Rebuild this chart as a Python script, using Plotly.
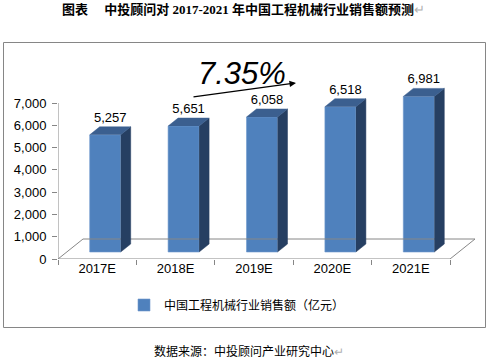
import plotly.graph_objects as go

# ---- data ----
categories = ["2017E", "2018E", "2019E", "2020E", "2021E"]
sales = [5257, 5651, 6058, 6518, 6981]
y_tick_values = [0, 1000, 2000, 3000, 4000, 5000, 6000, 7000]
growth_label = "7.35%"
series_name = "中国工程机械行业销售额（亿元）"
title_text = "图表　 中投顾问对 2017-2021 年中国工程机械行业销售额预测"
source_text = "数据来源：中投顾问产业研究中心"

# ---- geometry (pixels) ----
W, H = 489, 359
PL, PR, PT, PB = 58, 480, 85, 259
KX = 78.4            # px per category
KY = 156 / 7000      # px per unit
X0 = -0.5
XMAX = X0 + (PR - PL) / KX
YMAX = (PB - PT) / KY


def dx(px):
    return px / KX


def dy(py):
    return py / KY


def paper_x(px):
    return (px - PL) / (PR - PL)


def paper_y(py):
    return (PB - py) / (PB - PT)


BAR_W = dx(31)
SHIFT_X = dx(8)
BASE = dy(7)
DEP_X = dx(10)
DEP_Y = dy(8)
FLOOR_DX = dx(25)
FLOOR_DY = dy(20)

FRONT = "#4F81BD"
TOP = "#3B5F8F"
SIDE = "#263F62"
GRID = "#868686"
FONT_LAT = "Arial, Liberation Sans, Noto Sans CJK SC"
FONT_CJK = "Noto Sans CJK SC, Arial"

idx = list(range(len(categories)))
front_x = [i + SHIFT_X for i in idx]
tops = [BASE + v for v in sales]

fig = go.Figure()

# floor outline (back edge + diagonals)
n = len(categories)
fig.add_trace(go.Scatter(
    x=[X0, X0 + FLOOR_DX, X0 + n + FLOOR_DX, X0 + n],
    y=[0, FLOOR_DY, FLOOR_DY, 0],
    mode="lines", line=dict(color=GRID, width=1),
    showlegend=False, hoverinfo="skip"))

# front faces
fig.add_trace(go.Bar(
    x=front_x, y=sales, base=BASE, width=BAR_W,
    marker=dict(color=FRONT, line=dict(color="#6F99CC", width=0.6)),
    name=series_name, showlegend=True))

# side faces
sx, sy = [], []
for fx, t in zip(front_x, tops):
    xr = fx + BAR_W / 2
    sx += [xr, xr + DEP_X, xr + DEP_X, xr, None]
    sy += [BASE, BASE + DEP_Y, t + DEP_Y, t, None]
fig.add_trace(go.Scatter(x=sx, y=sy, mode="lines", fill="toself",
                         fillcolor=SIDE, line=dict(color=SIDE, width=0.5),
                         showlegend=False, hoverinfo="skip"))

# top faces
tx, ty = [], []
for fx, t in zip(front_x, tops):
    xl = fx - BAR_W / 2
    xr = fx + BAR_W / 2
    tx += [xl, xl + DEP_X, xr + DEP_X, xr, None]
    ty += [t, t + DEP_Y, t + DEP_Y, t, None]
fig.add_trace(go.Scatter(x=tx, y=ty, mode="lines", fill="toself",
                         fillcolor=TOP, line=dict(color=TOP, width=0.5),
                         showlegend=False, hoverinfo="skip"))

# data labels
fig.add_trace(go.Scatter(
    x=[fx + DEP_X / 2 for fx in front_x],
    y=[t + DEP_Y + dy(2) for t in tops],
    mode="text", text=[f"{v:,}" for v in sales],
    textposition="top center",
    textfont=dict(family=FONT_LAT, size=13, color="#000000"),
    cliponaxis=False, showlegend=False, hoverinfo="skip"))

shapes = [
    dict(type="line", xref="x", yref="y", x0=X0, x1=X0, y0=0,
         y1=y_tick_values[-1], line=dict(color=GRID, width=1)),
    dict(type="line", xref="x", yref="y", x0=X0, x1=X0 + n, y0=0, y1=0,
         line=dict(color=GRID, width=1)),
    dict(type="rect", xref="paper", yref="paper",
         x0=paper_x(3.5), x1=paper_x(485.5), y0=paper_y(327.5), y1=paper_y(42.5),
         line=dict(color=GRID, width=1), fillcolor="rgba(0,0,0,0)"),
]

annotations = [
    dict(text=growth_label, xref="paper", yref="paper",
         x=paper_x(242), y=paper_y(74), showarrow=False,
         font=dict(family=FONT_LAT, size=31, color="#000000", style="italic"),
         xanchor="center", yanchor="middle"),
    dict(text="", xref="paper", yref="paper", x=paper_x(296), y=paper_y(83),
         ax=-104, ay=14, showarrow=True, arrowhead=2, arrowsize=1,
         arrowwidth=1.3, arrowcolor="#000000"),
    dict(text="<b>" + title_text + "</b><span style='color:#b0b0b0'>↵</span>",
         xref="paper", yref="paper",
         x=paper_x(243), y=paper_y(10), showarrow=False,
         font=dict(family="Liberation Serif, Noto Sans CJK SC", size=13,
                   color="#000000"),
         xanchor="center", yanchor="middle"),
    dict(text=source_text + "<span style='color:#b0b0b0'>↵</span>",
         xref="paper", yref="paper",
         x=paper_x(249), y=paper_y(350), showarrow=False,
         font=dict(family=FONT_CJK, size=12, color="#000000"),
         xanchor="center", yanchor="middle"),
]

fig.update_layout(
    width=W, height=H, autosize=False,
    margin=dict(l=PL, r=W - PR, t=PT, b=H - PB, pad=0, autoexpand=False),
    paper_bgcolor="white", plot_bgcolor="white",
    barmode="overlay",
    shapes=shapes, annotations=annotations,
    legend=dict(orientation="h", x=paper_x(237), y=paper_y(305),
                xanchor="center", yanchor="middle",
                font=dict(family=FONT_CJK, size=12, color="#000000"),
                itemwidth=30, bgcolor="rgba(0,0,0,0)"),
    xaxis=dict(range=[X0, XMAX], tickmode="array", tickvals=idx,
               ticktext=categories, ticks="", showgrid=False, zeroline=False,
               showline=False, automargin=False,
               tickfont=dict(family=FONT_LAT, size=13, color="#000000"),
               minor=dict(tickmode="array",
                          tickvals=[X0 + i for i in range(n + 1)],
                          ticks="outside", ticklen=5, tickcolor=GRID,
                          showgrid=False)),
    yaxis=dict(range=[0, YMAX], tickmode="array", tickvals=y_tick_values,
               tickformat=",", ticks="outside", ticklen=5, tickcolor=GRID,
               showgrid=False, zeroline=False, showline=False,
               automargin=False, ticklabelstandoff=3,
               tickfont=dict(family=FONT_LAT, size=13, color="#000000")),
)

fig.write_html("out.html",
               config={"displayModeBar": False},
               post_script="document.body.style.margin='0';"
                           "document.body.style.overflow='hidden';")
